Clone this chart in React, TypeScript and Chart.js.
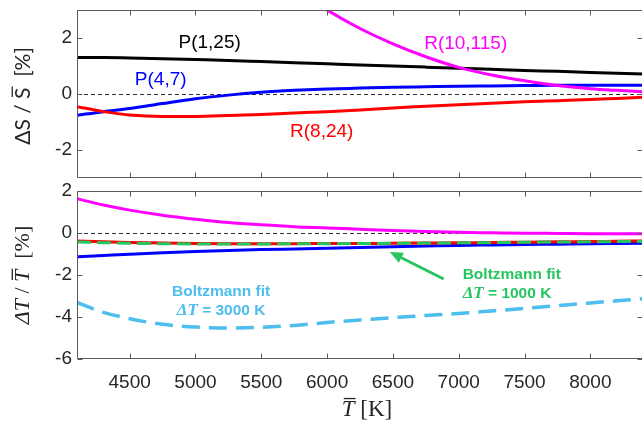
import React, { useEffect, useRef } from "react";
import { Chart, registerables } from "chart.js";

Chart.register(...registerables);

// ---------- data ----------
const temps = [4100, 4300, 4500, 4750, 5000, 5250, 5500, 5750, 6000, 6250, 6500, 6750, 7000, 7250, 7500, 7750, 8000, 8200, 8400];
const xTickValues = [4500, 5000, 5500, 6000, 6500, 7000, 7500, 8000];
const topYTicks = [-2, 0, 2];
const bottomYTicks = [-6, -4, -2, 0, 2];

// top panel: ΔS/S̄ [%]
const topP125 = [1.30, 1.30, 1.29, 1.26, 1.23, 1.20, 1.16, 1.12, 1.08, 1.04, 1.00, 0.96, 0.92, 0.88, 0.84, 0.81, 0.77, 0.74, 0.71];
const topP47 = [-0.76, -0.63, -0.52, -0.34, -0.17, -0.04, 0.06, 0.13, 0.18, 0.21, 0.24, 0.26, 0.28, 0.29, 0.30, 0.31, 0.31, 0.31, 0.31];
const topR824 = [-0.45, -0.63, -0.75, -0.80, -0.80, -0.77, -0.73, -0.68, -0.63, -0.57, -0.50, -0.44, -0.38, -0.33, -0.28, -0.24, -0.20, -0.16, -0.12];
const topR10115 = [null, null, null, null, null, null, null, 3.8, 3.0, 2.34, 1.79, 1.33, 0.95, 0.68, 0.47, 0.30, 0.19, 0.13, 0.08];

// bottom panel: ΔT/T̄ [%]
const botR10115 = [1.63, 1.33, 1.09, 0.85, 0.66, 0.50, 0.39, 0.30, 0.24, 0.18, 0.12, 0.07, 0.03, 0.01, -0.01, -0.02, -0.03, -0.03, -0.03];
const botR824 = [-0.38, -0.42, -0.45, -0.48, -0.50, -0.51, -0.51, -0.51, -0.50, -0.50, -0.49, -0.48, -0.47, -0.45, -0.44, -0.42, -0.41, -0.39, -0.38];
const botP47 = [-1.13, -1.07, -1.01, -0.94, -0.88, -0.83, -0.79, -0.76, -0.73, -0.69, -0.65, -0.62, -0.59, -0.57, -0.55, -0.53, -0.51, -0.50, -0.49];
const botFit1000 = [-0.43, -0.46, -0.49, -0.51, -0.52, -0.52, -0.52, -0.51, -0.51, -0.50, -0.49, -0.48, -0.47, -0.46, -0.44, -0.43, -0.42, -0.41, -0.40];
const botFit3000 = [-3.31, -3.78, -4.08, -4.35, -4.48, -4.52, -4.49, -4.40, -4.26, -4.14, -4.03, -3.93, -3.83, -3.71, -3.59, -3.46, -3.33, -3.23, -3.13];

// annotation anchors (data coordinates)
const topLabels = [
  { text: "P(1,25)", x: 5108, y: 1.84, color: "#000000" },
  { text: "P(4,7)", x: 4736, y: 0.5, color: "#0000FF" },
  { text: "R(8,24)", x: 5959, y: -1.34, color: "#FF0000" },
  { text: "R(10,115)", x: 7053, y: 1.81, color: "#FF00FF" },
];
const fit3000Label = { x: 5195, y1: -2.79, y2: -3.69, value: "3000 K" };
const fit1000Label = { x: 7030, y1: -2.0, y2: -2.9, value: "1000 K" };
const arrowFrom = { x: 6886, y: -2.19 };
const arrowTo = { x: 6476, y: -0.9 };

// ---------- styles ----------
const TEXT = "#262626";
const AXIS = "#5a5a5a";
const BLACK = "#000000";
const BLUE = "#0000FF";
const RED = "#FF0000";
const MAGENTA = "#FF00FF";
const GREEN = "#25C660";
const LIGHTBLUE = "#4DBEEE";
const SANS = "'Liberation Sans', Arial, sans-serif";
const SERIF = "'Liberation Serif', 'Times New Roman', serif";

function pts(ys: (number | null)[]) {
  return temps
    .map((t, i) => ({ x: t, y: ys[i] }))
    .filter((p) => p.y !== null) as { x: number; y: number }[];
}

function line(data: (number | null)[], color: string, order: number, dash?: number[], width = 3) {
  return {
    data: pts(data),
    borderColor: color,
    backgroundColor: color,
    borderWidth: width,
    pointRadius: 0,
    fill: false,
    cubicInterpolationMode: "monotone" as const,
    borderDash: dash || [],
    order,
  };
}

type Seg = { t: string; f: string; bar?: boolean };

function drawSegs(ctx: CanvasRenderingContext2D, segs: Seg[], cx: number, cy: number, color: string) {
  ctx.fillStyle = color;
  ctx.strokeStyle = color;
  ctx.textBaseline = "middle";
  ctx.textAlign = "left";
  const widths = segs.map((s) => {
    ctx.font = s.f;
    return ctx.measureText(s.t).width;
  });
  const total = widths.reduce((a, b) => a + b, 0);
  let x = cx - total / 2;
  segs.forEach((s, i) => {
    ctx.font = s.f;
    ctx.fillText(s.t, x, cy);
    if (s.bar) {
      const m = ctx.measureText(s.t);
      const top = cy - m.actualBoundingBoxAscent - 2.5;
      ctx.lineWidth = 1.3;
      ctx.beginPath();
      ctx.moveTo(x + 2, top);
      ctx.lineTo(x + widths[i] + 1, top);
      ctx.stroke();
    }
    x += widths[i];
  });
}

function framePlugin(id: string, yTicks: number[]) {
  return {
    id,
    beforeDatasetsDraw(chart: any) {
      const { ctx, chartArea: a, scales } = chart;
      const y0 = Math.round(scales.y.getPixelForValue(0)) + 0.5;
      ctx.save();
      ctx.strokeStyle = "#333333";
      ctx.lineWidth = 1;
      ctx.setLineDash([4, 3]);
      ctx.beginPath();
      ctx.moveTo(a.left, y0);
      ctx.lineTo(a.right, y0);
      ctx.stroke();
      ctx.restore();
    },
    afterDraw(chart: any) {
      const { ctx, chartArea: a, scales } = chart;
      ctx.save();
      ctx.strokeStyle = AXIS;
      ctx.lineWidth = 1;
      const L = Math.round(a.left) + 0.5;
      const R = Math.round(a.right) - 0.5;
      const T = Math.round(a.top) + 0.5;
      const B = Math.round(a.bottom) - 0.5;
      ctx.beginPath();
      ctx.rect(L, T, R - L, B - T);
      const tl = 5;
      xTickValues.forEach((v) => {
        const px = Math.round(scales.x.getPixelForValue(v)) + 0.5;
        ctx.moveTo(px, T);
        ctx.lineTo(px, T + tl);
        ctx.moveTo(px, B);
        ctx.lineTo(px, B - tl);
      });
      yTicks.forEach((v) => {
        const py = Math.round(scales.y.getPixelForValue(v)) + 0.5;
        ctx.moveTo(L, py);
        ctx.lineTo(L + tl, py);
        ctx.moveTo(R, py);
        ctx.lineTo(R - tl, py);
      });
      ctx.stroke();
      ctx.restore();
    },
  };
}

const topTextPlugin = {
  id: "topText",
  afterDraw(chart: any) {
    const { ctx, scales } = chart;
    ctx.save();
    ctx.textAlign = "center";
    ctx.textBaseline = "middle";
    ctx.font = `19px ${SANS}`;
    topLabels.forEach((l) => {
      ctx.fillStyle = l.color;
      ctx.fillText(l.text, scales.x.getPixelForValue(l.x), scales.y.getPixelForValue(l.y));
    });
    // y-axis title
    ctx.translate(23, (chart.chartArea.top + chart.chartArea.bottom) / 2 + 2);
    ctx.rotate(-Math.PI / 2);
    const f = `21px Lato, ${SANS}`;
    drawSegs(
      ctx,
      [
        { t: "ΔS / ", f },
        { t: "S", f, bar: true },
        { t: "  [%]", f },
      ],
      0,
      0,
      TEXT
    );
    ctx.restore();
  },
};

function drawFitLabel(ctx: CanvasRenderingContext2D, scales: any, lab: any, color: string, align: "center" | "left") {
  const px = scales.x.getPixelForValue(lab.x);
  const y1 = scales.y.getPixelForValue(lab.y1);
  const y2 = scales.y.getPixelForValue(lab.y2);
  const bold = `bold 15.5px ${SANS}`;
  const ital = `italic bold 17px ${SERIF}`;
  ctx.fillStyle = color;
  ctx.textBaseline = "middle";
  ctx.font = bold;
  const w1 = ctx.measureText("Boltzmann fit").width;
  ctx.textAlign = "left";
  const x1 = align === "center" ? px - w1 / 2 : px;
  ctx.fillText("Boltzmann fit", x1, y1);
  const segs: Seg[] = [
    { t: "ΔT", f: ital },
    { t: " = " + lab.value, f: bold },
  ];
  const widths = segs.map((s) => {
    ctx.font = s.f;
    return ctx.measureText(s.t).width;
  });
  const tot = widths[0] + widths[1];
  const cx = align === "center" ? px : px + tot / 2;
  drawSegs(ctx, segs, cx, y2, color);
}

const bottomTextPlugin = {
  id: "bottomText",
  afterDraw(chart: any) {
    const { ctx, scales, chartArea: a } = chart;
    ctx.save();
    drawFitLabel(ctx, scales, fit3000Label, LIGHTBLUE, "center");
    drawFitLabel(ctx, scales, fit1000Label, GREEN, "left");

    // arrow
    const x0 = scales.x.getPixelForValue(arrowFrom.x);
    const y0 = scales.y.getPixelForValue(arrowFrom.y);
    const x1 = scales.x.getPixelForValue(arrowTo.x);
    const y1 = scales.y.getPixelForValue(arrowTo.y);
    const ang = Math.atan2(y1 - y0, x1 - x0);
    const hl = 13;
    const hw = 5.5;
    const bx = x1 - hl * Math.cos(ang);
    const by = y1 - hl * Math.sin(ang);
    ctx.strokeStyle = GREEN;
    ctx.fillStyle = GREEN;
    ctx.lineWidth = 3;
    ctx.beginPath();
    ctx.moveTo(x0, y0);
    ctx.lineTo(bx, by);
    ctx.stroke();
    ctx.beginPath();
    ctx.moveTo(x1, y1);
    ctx.lineTo(bx + hw * Math.sin(ang), by - hw * Math.cos(ang));
    ctx.lineTo(bx - hw * Math.sin(ang), by + hw * Math.cos(ang));
    ctx.closePath();
    ctx.fill();

    // y-axis title
    ctx.save();
    ctx.translate(23, (a.top + a.bottom) / 2);
    ctx.rotate(-Math.PI / 2);
    const fi = `italic 22px ${SERIF}`;
    const fr = `22px ${SERIF}`;
    drawSegs(
      ctx,
      [
        { t: "ΔT", f: fi },
        { t: " / ", f: fr },
        { t: "T", f: fi, bar: true },
        { t: "  [%]", f: fr },
      ],
      0,
      0,
      TEXT
    );
    ctx.restore();

    // x-axis title
    drawSegs(
      ctx,
      [
        { t: "T", f: `italic 23px ${SERIF}`, bar: true },
        { t: " [K]", f: `23px ${SERIF}` },
      ],
      (a.left + a.right) / 2 + 7,
      a.bottom + 51,
      TEXT
    );
    ctx.restore();
  },
};

function noPad(s: any) {
  s.paddingTop = 0;
  s.paddingBottom = 0;
  s.paddingLeft = 0;
  s.paddingRight = 0;
}

function yScale(min: number, max: number, ticks: number[]) {
  return {
    type: "linear" as const,
    min,
    max,
    afterFit: (s: any) => {
      s.width = 77;
      noPad(s);
    },
    afterBuildTicks: (s: any) => {
      s.ticks = ticks.map((v) => ({ value: v }));
    },
    grid: { display: false, drawTicks: false },
    border: { display: false },
    ticks: {
      padding: 5,
      color: TEXT,
      font: { family: SANS, size: 19 },
      callback: (v: any) => String(v),
    },
  };
}

export default function App() {
  const c1 = useRef<HTMLCanvasElement>(null);
  const c2 = useRef<HTMLCanvasElement>(null);

  useEffect(() => {
    const ch1 = new Chart(c1.current as HTMLCanvasElement, {
      type: "line",
      data: {
        datasets: [
          line(topP125, BLACK, 3),
          line(topP47, BLUE, 2),
          line(topR824, RED, 1),
          line(topR10115, MAGENTA, 0),
        ] as any,
      },
      options: {
        responsive: false,
        devicePixelRatio: 1,
        animation: false,
        events: [],
        layout: { padding: { top: 10, bottom: 2, left: 0, right: 7 } },
        plugins: { legend: { display: false }, tooltip: { enabled: false } },
        scales: {
          x: { type: "linear", min: 4100, max: 8400, display: false },
          y: yScale(-3, 3, topYTicks) as any,
        },
      },
      plugins: [framePlugin("frame1", topYTicks), topTextPlugin],
    });

    const ch2 = new Chart(c2.current as HTMLCanvasElement, {
      type: "line",
      data: {
        datasets: [
          line(botR10115, MAGENTA, 4),
          line(botP47, BLUE, 3),
          line(botR824, RED, 2),
          line(botFit1000, GREEN, 1, [14, 6]),
          line(botFit3000, LIGHTBLUE, 0, [18, 9], 3.5),
        ] as any,
      },
      options: {
        responsive: false,
        devicePixelRatio: 1,
        animation: false,
        events: [],
        layout: { padding: { top: 11, bottom: 0, left: 0, right: 7 } },
        plugins: { legend: { display: false }, tooltip: { enabled: false } },
        scales: {
          x: {
            type: "linear",
            min: 4100,
            max: 8400,
            afterFit: (s: any) => {
              s.height = 71;
              noPad(s);
            },
            afterBuildTicks: (s: any) => {
              s.ticks = xTickValues.map((v) => ({ value: v }));
            },
            grid: { display: false, drawTicks: false },
            border: { display: false },
            ticks: {
              padding: 12,
              autoSkip: false,
              maxRotation: 0,
              color: TEXT,
              font: { family: SANS, size: 19 },
              callback: (v: any) => String(v),
            },
          },
          y: yScale(-6, 2, bottomYTicks) as any,
        },
      },
      plugins: [framePlugin("frame2", bottomYTicks), bottomTextPlugin],
    });

    return () => {
      ch1.destroy();
      ch2.destroy();
    };
  }, []);

  return (
    <div
      style={{
        position: "fixed",
        left: 0,
        top: 0,
        width: 642,
        height: 430,
        overflow: "hidden",
        background: "#ffffff",
      }}
    >
      <canvas
        ref={c1}
        width={650}
        height={180}
        style={{ position: "absolute", left: 0, top: 0, width: 650, height: 180 }}
      />
      <canvas
        ref={c2}
        width={650}
        height={250}
        style={{ position: "absolute", left: 0, top: 180, width: 650, height: 250 }}
      />
    </div>
  );
}
